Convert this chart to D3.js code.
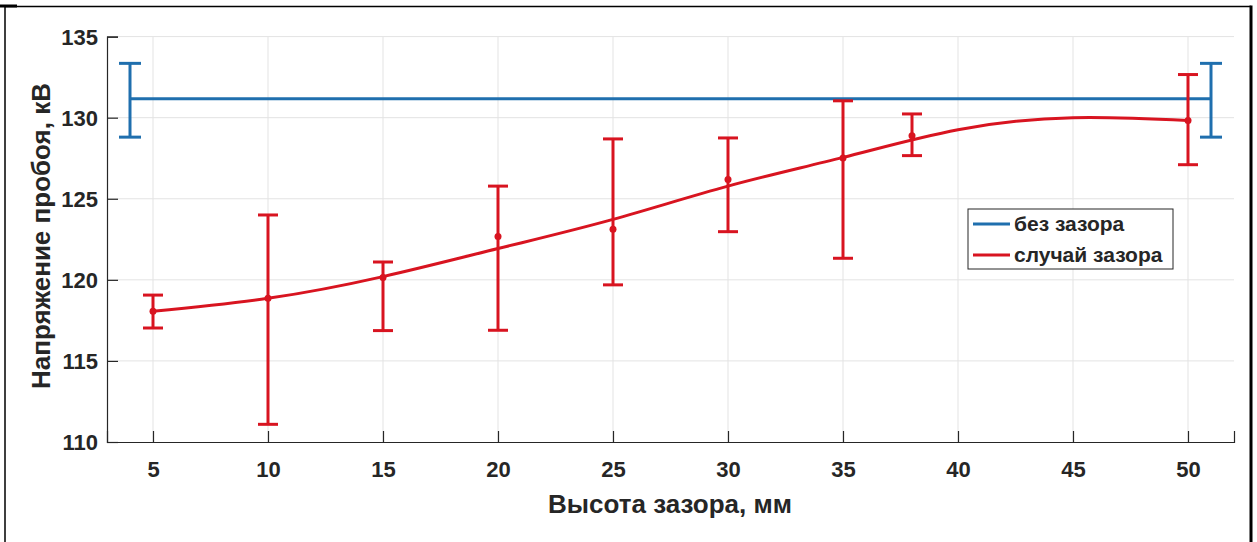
<!DOCTYPE html>
<html>
<head>
<meta charset="utf-8">
<script src="https://cdn.jsdelivr.net/npm/d3@7"></script>
<style>
  html, body { margin: 0; padding: 0; background: #fff; }
  svg { display: block; }
  text { font-family: "Liberation Sans", Arial, sans-serif; font-weight: bold; fill: #262626; }
</style>
</head>
<body>
<svg id="chart" width="1257" height="542"></svg>
<script>
// Measured breakdown voltage with a gap (mean and error range), kV
const gapHeights = [5, 10, 15, 20, 25, 30, 35, 38, 50];
const gapMean    = [118.06, 118.86, 120.15, 122.67, 123.12, 126.19, 127.52, 128.89, 129.82];
const gapLow     = [117.03, 111.09, 116.87, 116.89, 119.69, 122.97, 121.33, 127.66, 127.10];
const gapHigh    = [119.06, 124.00, 121.10, 125.78, 128.69, 128.75, 131.04, 130.23, 132.66];

// Smoothed trend through the gap measurements
const trendX = [5, 10, 15, 20, 25, 30, 35, 40, 45, 50];
const trendY = [118.06, 118.86, 120.2, 121.93, 123.73, 125.78, 127.55, 129.26, 130.0, 129.82];

// Reference level without a gap
const noGapX    = [4, 51];
const noGapMean = [131.17, 131.17];
const noGapLow  = [128.8, 128.8];
const noGapHigh = [133.35, 133.35];

const xTicks = [5, 10, 15, 20, 25, 30, 35, 40, 45, 50];
const yTicks = [110, 115, 120, 125, 130, 135];
const legendLabels = ["без зазора", "случай зазора"];

const blue = "#1f6fae";
const red = "#d81420";
const axisColor = "#262626";

const svg = d3.select("#chart");

// Outer frame (left, top and right edges)
svg.append("path")
  .attr("d", "M5,542 L5,6.5 L1251,6.5")
  .attr("fill", "none").attr("stroke", "#000").attr("stroke-width", 1.5);
svg.append("line").attr("x1", 1251).attr("x2", 1251).attr("y1", 5.5).attr("y2", 542)
  .attr("stroke", "#000").attr("stroke-width", 3);
svg.append("line").attr("x1", 0).attr("x2", 17).attr("y1", 6).attr("y2", 6)
  .attr("stroke", "#000").attr("stroke-width", 3);

const x = d3.scaleLinear().domain([3, 52]).range([107, 1234]);
const y = d3.scaleLinear().domain([110, 135]).range([442, 36.6]);

// Grid
const grid = svg.append("g").attr("stroke", "#e3e3e3").attr("stroke-width", 1);
grid.selectAll(".gx").data(xTicks).join("line")
  .attr("x1", d => x(d)).attr("x2", d => x(d))
  .attr("y1", y(110)).attr("y2", y(135));
grid.selectAll(".gy").data(yTicks.slice(1)).join("line")
  .attr("x1", x(3)).attr("x2", x(52))
  .attr("y1", d => y(d)).attr("y2", d => y(d));

// Axes with inward ticks
const xAxis = d3.axisBottom(x).tickValues(xTicks).tickSize(-11).tickPadding(19)
  .tickFormat(d3.format("d"));
const yAxis = d3.axisLeft(y).tickValues(yTicks).tickSize(-11).tickPadding(9)
  .tickFormat(d3.format("d"));

const gx = svg.append("g").attr("transform", `translate(0,${y(110)})`).call(xAxis);
const gy = svg.append("g").attr("transform", `translate(${x(3)},0)`).call(yAxis);
[gx, gy].forEach(g => {
  g.select(".domain").attr("stroke", axisColor).attr("stroke-width", 1.2);
  g.selectAll(".tick line").attr("stroke", axisColor).attr("stroke-width", 1.2);
  g.selectAll(".tick text").attr("fill", axisColor)
    .style("font-size", "22px").style("font-family", "'Liberation Sans', Arial, sans-serif")
    .style("font-weight", "bold");
});
gy.selectAll(".tick text").attr("dy", "0.36em");

// Axis titles
svg.append("text")
  .attr("x", 670).attr("y", 513)
  .attr("text-anchor", "middle")
  .style("font-size", "26px")
  .text("Высота зазора, мм");
svg.append("text")
  .attr("transform", `translate(50,236) rotate(-90)`)
  .attr("text-anchor", "middle")
  .style("font-size", "26px")
  .text("Напряжение пробоя, кВ");

// Error bar helper
function errorBars(xs, lo, hi, color, capHalf) {
  const g = svg.append("g").attr("stroke", color).attr("stroke-width", 3).attr("fill", "none");
  xs.forEach((v, i) => {
    g.append("line").attr("x1", x(v)).attr("x2", x(v)).attr("y1", y(lo[i])).attr("y2", y(hi[i]));
    g.append("line").attr("x1", x(v) - capHalf).attr("x2", x(v) + capHalf).attr("y1", y(lo[i])).attr("y2", y(lo[i]));
    g.append("line").attr("x1", x(v) - capHalf).attr("x2", x(v) + capHalf).attr("y1", y(hi[i])).attr("y2", y(hi[i]));
  });
}

// No-gap reference line
svg.append("path")
  .datum(noGapX.map((v, i) => [v, noGapMean[i]]))
  .attr("fill", "none").attr("stroke", blue).attr("stroke-width", 3)
  .attr("d", d3.line().x(d => x(d[0])).y(d => y(d[1])));
errorBars(noGapX, noGapLow, noGapHigh, blue, 11);

// Gap trend curve
svg.append("path")
  .datum(trendX.map((v, i) => [v, trendY[i]]))
  .attr("fill", "none").attr("stroke", red).attr("stroke-width", 3)
  .attr("d", d3.line().curve(d3.curveNatural).x(d => x(d[0])).y(d => y(d[1])));
errorBars(gapHeights, gapLow, gapHigh, red, 10);
svg.append("g").selectAll("circle")
  .data(gapHeights.map((v, i) => [v, gapMean[i]]))
  .join("circle")
  .attr("cx", d => x(d[0])).attr("cy", d => y(d[1])).attr("r", 3.5)
  .attr("fill", red);

// Legend
const lg = svg.append("g").attr("transform", "translate(968,209)");
lg.append("rect").attr("width", 205).attr("height", 60)
  .attr("fill", "#fff").attr("stroke", axisColor).attr("stroke-width", 1);
[blue, red].forEach((c, i) => {
  const ly = 15 + i * 31;
  lg.append("line").attr("x1", 5).attr("x2", 42).attr("y1", ly).attr("y2", ly)
    .attr("stroke", c).attr("stroke-width", 3);
  lg.append("text").attr("x", 46).attr("y", ly).attr("dy", "0.35em")
    .style("font-size", "21px").text(legendLabels[i]);
});
</script>
</body>
</html>
